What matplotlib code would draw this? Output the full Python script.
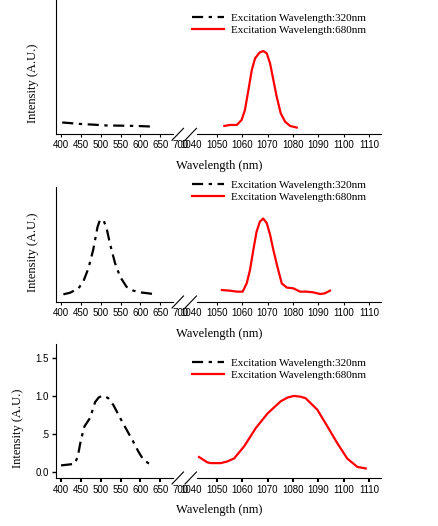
"""
Three stacked emission spectra with a broken wavelength axis
(visible band on the left, NIR band on the right).
"""
import matplotlib
matplotlib.use("Agg")
import matplotlib.pyplot as plt
from matplotlib.lines import Line2D

# ---- data ----
left_ticks = [400, 450, 500, 550, 600, 650, 700]
right_ticks = [1040, 1050, 1060, 1070, 1080, 1090, 1100, 1110]
labels = ["Excitation Wavelength:320nm", "Excitation Wavelength:680nm"]

p1_black_x = [403, 420, 448, 481, 515, 549, 591, 630]
p1_black_y = [0.075, 0.068, 0.056, 0.047, 0.036, 0.034, 0.030, 0.022]
p1_red_x = [1053, 1055.2, 1057.9, 1059.8, 1061.1, 1062.5, 1063.8, 1065.1, 1066.8,
            1068.3, 1069.7, 1071, 1072.3, 1073.6, 1075.2, 1076.9, 1078.9, 1081.5]
p1_red_y = [0.03, 0.043, 0.043, 0.108, 0.237, 0.5, 0.754, 0.905, 0.978,
            1.0, 0.97, 0.84, 0.625, 0.41, 0.194, 0.086, 0.03, 0.009]

p2_black_x = [406, 423, 444, 456, 469, 481, 492, 498, 507, 515, 523, 536, 549,
              565, 582, 599, 620, 632]
p2_black_y = [0.022, 0.043, 0.10, 0.187, 0.36, 0.60, 0.90, 0.99, 0.99, 0.88, 0.69,
              0.43, 0.25, 0.12, 0.07, 0.048, 0.035, 0.026]
p2_red_x = [1052, 1055.2, 1057.9, 1060.2, 1061.8, 1063.1, 1064.4, 1065.7, 1067,
            1068.3, 1069.7, 1071, 1072.3, 1073.9, 1075.6, 1077.6, 1080.2, 1082.8,
            1085.4, 1088, 1090.7, 1092.6, 1094.6]
p2_red_y = [0.078, 0.07, 0.057, 0.057, 0.165, 0.34, 0.60, 0.84, 0.97,
            1.01, 0.95, 0.80, 0.60, 0.38, 0.165, 0.11, 0.10, 0.057,
            0.057, 0.048, 0.026, 0.035, 0.07]

p3_black_x = [400, 434, 442, 450, 459, 473, 486, 495, 503, 511, 519, 532, 549,
              566, 582, 595, 608, 620, 633]
p3_black_y = [0.09, 0.11, 0.2, 0.42, 0.6, 0.71, 0.92, 0.98, 1.0, 0.995, 0.97,
              0.88, 0.71, 0.55, 0.40, 0.27, 0.16, 0.12, 0.10]
p3_red_x = [1043, 1046.3, 1047.6, 1051.6, 1054, 1056.8, 1060.8, 1065.4, 1070,
            1075.2, 1078, 1080.4, 1083, 1085, 1089.6, 1093.6, 1097.5, 1101.4,
            1105.4, 1108.7]
p3_red_y = [0.2, 0.13, 0.12, 0.12, 0.14, 0.18, 0.34, 0.58, 0.77,
            0.93, 0.98, 1.0, 0.99, 0.97, 0.82, 0.6, 0.38, 0.18,
            0.07, 0.05]

p3_yticks = [0.0, 0.5, 1.0, 1.5]
p3_yticklabels = ["0.0", ".5", "1.0", "1.5"]

W, H = 439, 526
SERIF = "Liberation Serif"
SANS = "Liberation Sans"
TICK_SIZE = 7

fig = plt.figure(figsize=(W / 100, H / 100), dpi=100)


def fx(px):
    return px / W


def fy(py):
    return 1 - py / H


def panel(top, bottom, ylim, black, red, leg_top, ylab_y, yticks=None):
    h = (bottom - top) / H
    axl = fig.add_axes([fx(56), fy(bottom), fx(184 - 56), h])
    axr = fig.add_axes([fx(184), fy(bottom), fx(381 - 184), h])

    axl.plot(*black, color="black", lw=1.6, dashes=(5, 2.5, 1.5, 2.5))
    axr.plot(*red, color="red", lw=1.6)

    axl.set_xlim(387.4, 709.8)
    axr.set_xlim(1037.1, 1114.7)
    for ax in (axl, axr):
        ax.set_ylim(*ylim)
        ax.spines["top"].set_visible(False)
        ax.spines["right"].set_visible(False)
        ax.tick_params(axis="x", direction="out", length=3 if yticks else 2,
                       width=1.5 if yticks else 0.8, pad=2)
    axr.spines["left"].set_visible(False)
    axr.set_yticks([])

    axl.set_xticks(left_ticks)
    axr.set_xticks(right_ticks)
    axl.set_xticklabels([str(t) for t in left_ticks], fontfamily=SANS,
                        fontsize=TICK_SIZE)
    axr.set_xticklabels([str(t) for t in right_ticks], fontfamily=SANS,
                        fontsize=TICK_SIZE)
    # tick marks hidden inside the break
    axl.xaxis.get_major_ticks()[-1].tick1line.set_visible(False)
    axr.xaxis.get_major_ticks()[0].tick1line.set_visible(False)
    axl.spines["bottom"].set_bounds(387.4, 683)
    axr.spines["bottom"].set_bounds(1042.3, 1114.7)

    if yticks:
        axl.set_yticks(yticks)
        axl.set_yticklabels(p3_yticklabels, fontfamily=SANS, fontsize=TICK_SIZE)
        axl.tick_params(axis="y", direction="out", length=3, width=1, pad=2)
        ylab_x = -0.25
    else:
        axl.set_yticks([])
        ylab_x = -0.135

    axl.set_ylabel("Intensity (A.U.)", fontfamily=SERIF, fontsize=9)
    axl.yaxis.set_label_coords(ylab_x, ylab_y)

    fig.text(fx(219), fy(bottom + 32), "Wavelength (nm)", fontfamily=SERIF,
             fontsize=9, ha="center", va="center")

    # break marks
    for x0 in (172, 185):
        fig.add_artist(Line2D([fx(x0), fx(x0 + 11.5)],
                              [fy(bottom + 6), fy(bottom - 6)],
                              color="black", lw=0.8))

    handles = [Line2D([], [], color="black", lw=1.6, dashes=(5, 2.5, 1.5, 2.5)),
               Line2D([], [], color="red", lw=1.6)]
    axr.legend(handles, labels, loc="upper left",
               bbox_to_anchor=(fx(192), fy(leg_top)),
               bbox_transform=fig.transFigure, frameon=False,
               prop={"family": SERIF, "size": 8}, borderpad=0,
               borderaxespad=0, handlelength=2.9, handletextpad=0.6,
               labelspacing=0.25)
    return axl, axr


panel(0, 134.3, (-0.078, 1.66), (p1_black_x, p1_black_y), (p1_red_x, p1_red_y),
      13, 0.38)
panel(186.7, 302, (-0.078, 1.425), (p2_black_x, p2_black_y), (p2_red_x, p2_red_y),
      180, 0.435)
panel(344, 478, (-0.075, 1.68), (p3_black_x, p3_black_y), (p3_red_x, p3_red_y),
      358, 0.373, yticks=p3_yticks)

fig.savefig("out.png", dpi=100)
plt.close(fig)
